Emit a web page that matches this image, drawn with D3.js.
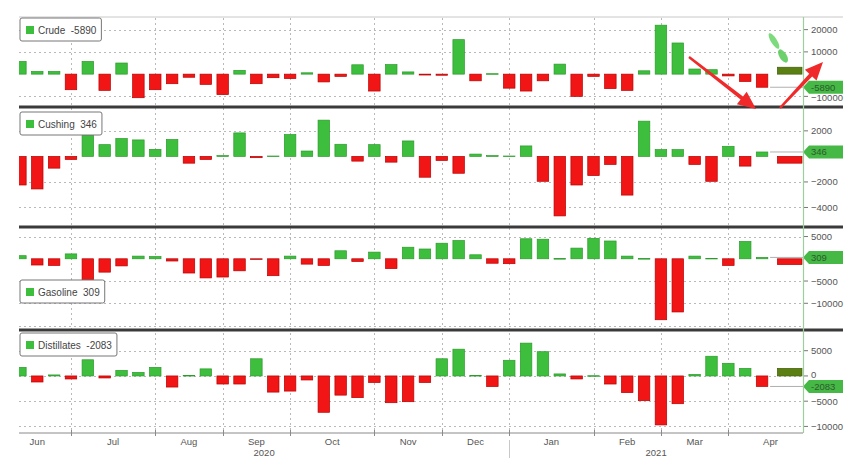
<!DOCTYPE html>
<html>
<head>
<meta charset="utf-8">
<script src="https://cdn.jsdelivr.net/npm/d3@7"></script>
<style>
  html, body { margin: 0; padding: 0; background: #fff; }
  svg { display: block; font-family: "Liberation Sans", Arial, sans-serif; }
</style>
</head>
<body>
<svg id="chart" width="868" height="475"></svg>
<script>
// ---------------- DATA ----------------
// Weekly bars, week-ending Fridays from 2020-06-12 to 2021-04-16
const firstWeek = new Date(2020, 5, 12);
const lastWeek = new Date(2021, 3, 16);

const crude = [5700, 1200, 1200, -7000, 5700, -7300, 5000, -10600, -7000, -4300,
  -1400, -4600, -9200, 1700, -4300, -1600, -2000, 600, -3500, -1000,
  4200, -7600, 4300, 1000, -400, -500, 15500, -3000, 200, -6300,
  -7600, -3000, 4500, -10000, -1000, -6500, -7300, 1500, 22000, 14000,
  2300, 2000, -800, -3300, -5890];
const cushing = [-2240, -2550, -920, -240, 1660, 920, 1400, 1290, 550, 1320,
  -530, -240, 60, 1840, -100, 30, 1710, 420, 2840, 950,
  -370, 920, -450, 1210, -1630, -320, -1320, 180, 60, 30,
  820, -1950, -4660, -2240, -1500, -630, -3030, 2760, 530, 530,
  -630, -1950, 790, -760, 346];
const gasoline = [700, -1400, -1500, 1100, -4700, -3000, -1600, 600, 500, -500,
  -3200, -4300, -4100, -2700, -100, -3800, 600, -1200, -1500, 1800,
  -600, 1500, -2200, 2600, 2200, 3500, 4100, 900, -1000, -1100,
  4500, 4400, 50, 2400, 4600, 4000, 600, 50, -13700, -11950,
  600, 100, -1500, 3900, 309];
const distillates = [1700, -1200, 200, -600, 3200, -400, 1100, 700, 1700, -2200,
  100, 1400, -1600, -1600, 3400, -3200, -3000, -800, -7200, -3800,
  -4300, -1300, -5300, -5100, -1300, 3400, 5300, 100, -2100, 3100,
  6500, 4800, 400, -600, 50, -1600, -3300, -4900, -9700, -5500,
  300, 3900, 2500, 1500, -2083];

// wide "latest" bars at the right edge of each panel
const seriesNames = ["Crude", "Cushing", "Gasoline", "Distillates"];
const latestLabels = ["-5890", "346", "309", "-2083"];
const wideValues = [3100, -530, -1300, 1500];

// axis ticks (right axis) per panel
const crudeTicks = [20000, 10000, -10000];
const cushingTicks = [2000, -2000, -4000];
const gasolineTicks = [5000, -5000, -10000];
const gasolineGrid = [5000, -5000, -10000, -15000];
const distillatesTicks = [5000, 0, -5000, -10000];

// month gridlines (first Friday of each month) and labels
const monthEdges = ["2020-06-05", "2020-07-03", "2020-08-07", "2020-09-04", "2020-10-02",
  "2020-11-06", "2020-12-04", "2021-01-01", "2021-02-05", "2021-03-05", "2021-04-02", "2021-05-07"];
const monthLabels = ["Jun", "Jul", "Aug", "Sep", "Oct", "Nov", "Dec", "Jan", "Feb", "Mar", "Apr"];
const yearLabels = ["2020", "2021"];
const yearBoundary = "2021-01-01";

// ---------------- LAYOUT ----------------
const svg = d3.select("#chart");
const parse = d3.timeParse("%Y-%m-%d");
const X0 = 19, X1 = 803, TAGR = 843;
const x = d3.scaleTime()
  .domain([new Date(2020, 5, 11, 10), new Date(2021, 4, 3)])
  .range([X0, X1]);

const weeks = d3.timeFriday.range(firstWeek, d3.timeDay.offset(lastWeek, 1));
const wideDate = d3.timeWeek.offset(lastWeek, 1);

const panels = [
  { values: crude, top: 17, bottom: 106, domain: [-14320, 25680], ticks: crudeTicks, grid: crudeTicks, legendY: 18 },
  { values: cushing, top: 108, bottom: 226, domain: [-5450, 3790], ticks: cushingTicks, grid: cushingTicks, legendY: 112 },
  { values: gasoline, top: 228, bottom: 329, domain: [-15780, 6920], ticks: gasolineTicks, grid: gasolineGrid, legendY: 280 },
  { values: distillates, top: 331, bottom: 433, domain: [-11300, 8900], ticks: distillatesTicks, grid: distillatesTicks, legendY: 333 }
];

const GREEN = "#3dbe3d", GREEN_S = "#2b9b2b";
const RED = "#f21515", RED_S = "#b80000";
const OLIVE = "#5c7f14", OLIVE_S = "#405c08";
const GRID = "#b9b9b9";
const TXT = "#555";

const defs = svg.append("defs");
const monthDates = monthEdges.map(parse);

// top line
svg.append("line").attr("x1", X0).attr("x2", TAGR).attr("y1", 17).attr("y2", 17)
  .attr("stroke", "#c8c8c8").attr("stroke-width", 1);

// vertical month gridlines
svg.append("g").selectAll("line")
  .data(monthDates.filter(d => x(d) > X0 && x(d) < X1))
  .join("line")
  .attr("x1", d => Math.round(x(d)) + 0.5).attr("x2", d => Math.round(x(d)) + 0.5)
  .attr("y1", 18).attr("y2", 433)
  .attr("stroke", GRID).attr("stroke-width", 1).attr("stroke-dasharray", "2,3");

panels.forEach((p, i) => {
  const y = d3.scaleLinear().domain(p.domain).range([p.bottom, p.top]);
  const g = svg.append("g");
  const clipId = "clip" + i;
  defs.append("clipPath").attr("id", clipId).append("rect")
    .attr("x", X0).attr("y", p.top).attr("width", X1 - X0).attr("height", p.bottom - p.top);

  // horizontal gridlines
  g.append("g").selectAll("line").data(p.grid).join("line")
    .attr("x1", X0).attr("x2", X1)
    .attr("y1", d => Math.round(y(d)) + 0.5).attr("y2", d => Math.round(y(d)) + 0.5)
    .attr("stroke", GRID).attr("stroke-width", 1).attr("stroke-dasharray", "2,3");

  // bars
  const bw = 11.5;
  const bars = g.append("g").attr("clip-path", `url(#${clipId})`);
  bars.selectAll("rect.bar").data(p.values).join("rect")
    .attr("class", "bar")
    .attr("x", (d, k) => x(weeks[k]) - bw / 2)
    .attr("width", bw)
    .attr("y", d => Math.min(y(d), y(0)))
    .attr("height", d => Math.max(0.6, Math.abs(y(d) - y(0))))
    .attr("fill", d => d >= 0 ? GREEN : RED)
    .attr("stroke", d => d >= 0 ? GREEN_S : RED_S)
    .attr("stroke-width", 0.7);

  // wide latest bar
  const wv = wideValues[i];
  bars.append("rect")
    .attr("x", x(wideDate) - 1.5)
    .attr("width", X1 - 1 - (x(wideDate) - 1.5))
    .attr("y", Math.min(y(wv), y(0)))
    .attr("height", Math.abs(y(wv) - y(0)))
    .attr("fill", wv >= 0 ? OLIVE : RED)
    .attr("stroke", wv >= 0 ? OLIVE_S : RED_S)
    .attr("stroke-width", 0.7);

  // last value line
  const lv = p.values[p.values.length - 1];
  const cy = y(lv);
  g.append("line")
    .attr("x1", x(weeks[weeks.length - 1]) + 8).attr("x2", X1)
    .attr("y1", cy).attr("y2", cy)
    .attr("stroke", "#9a9a9a").attr("stroke-width", 0.8);

  // right axis ticks and labels
  const tg = g.append("g");
  tg.selectAll("line").data(p.ticks).join("line")
    .attr("x1", X1).attr("x2", X1 + 5)
    .attr("y1", d => y(d)).attr("y2", d => y(d))
    .attr("stroke", "#777").attr("stroke-width", 1);
  tg.selectAll("text").data(p.ticks).join("text")
    .attr("x", X1 + 8)
    .attr("y", d => {
      const ty = y(d);
      if (Math.abs(ty - cy) < 12) return ty > cy ? cy + 14 : cy - 8;
      return ty + 3.5;
    })
    .attr("font-size", 9.5).attr("fill", TXT)
    .text(d => d3.format("d")(d));

  // value tag
  g.append("path")
    .attr("d", `M${X1},${cy} L${X1 + 6},${cy - 6.5} L${TAGR},${cy - 6.5} L${TAGR},${cy + 6.5} L${X1 + 6},${cy + 6.5} Z`)
    .attr("fill", "#45b845");
  g.append("text").attr("x", X1 + 8).attr("y", cy + 3.5)
    .attr("font-size", 9.5).attr("fill", "#2f5a2f")
    .text(latestLabels[i]);

  // legend box
  const lg = svg.append("g").attr("transform", `translate(20,${p.legendY})`);
  const box = lg.append("rect").attr("x", 0).attr("y", 0).attr("height", 23).attr("rx", 2)
    .attr("fill", "#fff").attr("stroke", "#777").attr("stroke-width", 1);
  lg.append("rect").attr("x", 6).attr("y", 8).attr("width", 8).attr("height", 8)
    .attr("fill", GREEN);
  const t = lg.append("text").attr("x", 18).attr("y", 15.5)
    .attr("font-size", 10).attr("fill", "#444")
    .style("white-space", "pre")
    .text(seriesNames[i] + "  " + latestLabels[i]);
  const tw = t.node().getComputedTextLength();
  box.attr("width", 18 + tw + 5);
});

// separators between panels
[107, 227, 330].forEach(yy => {
  svg.append("line").attr("x1", X0).attr("x2", TAGR).attr("y1", yy).attr("y2", yy)
    .attr("stroke", "#3a3a3a").attr("stroke-width", 3);
});

// right axis line
svg.append("line").attr("x1", X1 + 0.5).attr("x2", X1 + 0.5).attr("y1", 17).attr("y2", 433)
  .attr("stroke", "#9ccf9c").attr("stroke-width", 1.2);

// bottom axis
svg.append("line").attr("x1", X0).attr("x2", X1).attr("y1", 433).attr("y2", 433)
  .attr("stroke", "#8a8a8a").attr("stroke-width", 1);
svg.append("g").selectAll("line")
  .data(monthDates.filter(d => x(d) > X0 && x(d) < X1)).join("line")
  .attr("x1", d => Math.round(x(d)) + 0.5).attr("x2", d => Math.round(x(d)) + 0.5)
  .attr("y1", 430).attr("y2", 436).attr("stroke", "#8a8a8a");

svg.append("g").selectAll("text").data(monthLabels).join("text")
  .attr("x", (d, k) => (x(monthDates[k]) + x(monthDates[k + 1])) / 2)
  .attr("y", 445)
  .attr("text-anchor", "middle").attr("font-size", 9.5).attr("fill", TXT)
  .text(d => d);

const yb = x(parse(yearBoundary));
const yearCenters = [(X0 + yb) / 2, (yb + X1) / 2];
svg.append("g").selectAll("text").data(yearLabels).join("text")
  .attr("x", (d, k) => yearCenters[k]).attr("y", 456)
  .attr("text-anchor", "middle").attr("font-size", 9.5).attr("fill", TXT)
  .text(d => d);
svg.append("line").attr("x1", Math.round(yb) + 0.5).attr("x2", Math.round(yb) + 0.5)
  .attr("y1", 440).attr("y2", 458).attr("stroke", "#c8c8c8");

// ---------------- ANNOTATIONS ----------------
function arrow(x1, y1, x2, y2) {
  const ang = Math.atan2(y2 - y1, x2 - x1);
  const L = Math.hypot(x2 - x1, y2 - y1);
  const hl = 18, hw = 8, sw = 2;
  const pts = [[0, -sw * 0.6], [L - hl, -sw], [L - hl, -hw], [L, 0], [L - hl, hw], [L - hl, sw], [0, sw * 0.6]];
  const c = Math.cos(ang), s = Math.sin(ang);
  return "M" + pts.map(([u, v]) => [x1 + u * c - v * s, y1 + u * s + v * c].join(",")).join("L") + "Z";
}
svg.append("path").attr("d", arrow(689, 57, 756, 109)).attr("fill", "#f02a2a");
svg.append("path").attr("d", arrow(780, 108, 823, 62)).attr("fill", "#f02a2a");

// green hand-drawn marker
svg.append("ellipse").attr("cx", 774).attr("cy", 41).attr("rx", 3).attr("ry", 9)
  .attr("transform", "rotate(-32,774,41)").attr("fill", "#66d466").attr("opacity", 0.85);
svg.append("ellipse").attr("cx", 783).attr("cy", 56).attr("rx", 3.6).attr("ry", 7.5)
  .attr("transform", "rotate(-32,783,56)").attr("fill", "#5ccc5c").attr("opacity", 0.9);
</script>
</body>
</html>
